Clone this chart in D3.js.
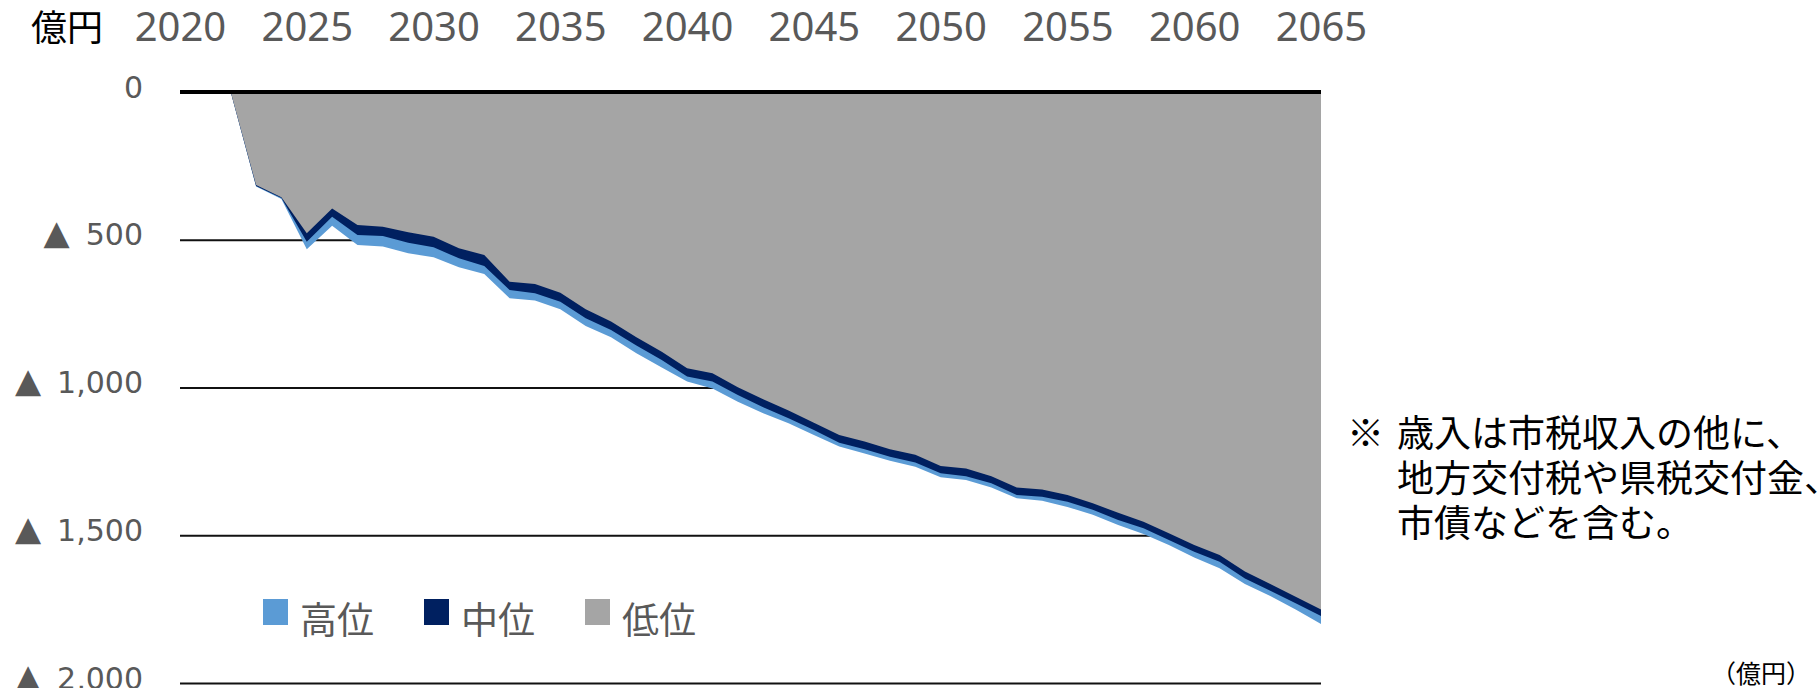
<!DOCTYPE html>
<html>
<head>
<meta charset="utf-8">
<script src="https://cdn.jsdelivr.net/npm/d3@7"></script>
<style>
  body { margin: 0; background: #fff; }
  svg { display: block; }
</style>
</head>
<body>
<script>
// years shown on the top axis
var yearTicks = [2020, 2025, 2030, 2035, 2040, 2045, 2050, 2055, 2060, 2065];
var valueTicks = [0, -500, -1000, -1500, -2000];

var years = d3.range(2022, 2066);

// 低位 (gray, smallest shortfall)
var low = [0, -315, -356, -478, -394, -450, -456, -475, -490, -529, -552,
  -642, -650, -679, -735, -777, -830, -879, -935, -952, -999, -1040,
  -1078, -1119, -1161, -1183, -1209, -1228, -1266, -1274, -1300, -1338,
  -1345, -1364, -1392, -1424, -1454, -1493, -1533, -1567, -1623, -1665,
  -1708, -1751];
// 中位 (navy)
var mid = [0, -318, -359, -507, -422, -484, -487, -510, -525, -563, -589,
  -670, -681, -710, -766, -805, -858, -907, -963, -980, -1025, -1067,
  -1104, -1144, -1187, -1209, -1234, -1254, -1290, -1300, -1324, -1364,
  -1370, -1387, -1414, -1448, -1476, -1516, -1556, -1590, -1646, -1688,
  -1730, -1773];
// 高位 (light blue, largest shortfall)
var high = [0, -320, -362, -532, -453, -518, -523, -546, -559, -593, -616,
  -698, -706, -735, -792, -830, -884, -932, -980, -1003, -1048, -1087,
  -1121, -1161, -1200, -1223, -1248, -1268, -1304, -1313, -1338, -1375,
  -1383, -1404, -1431, -1465, -1496, -1533, -1575, -1612, -1665, -1706,
  -1751, -1800];

var seriesNames = ['高位', '中位', '低位'];
var seriesColors = ['#5b9bd5', '#002060', '#a5a5a5'];

var noteLines = ['歳入は市税収入の他に、', '地方交付税や県税交付金、', '市債などを含む。'];

var W = 1820, H = 688;
var svg = d3.select('body').append('svg')
  .attr('width', W).attr('height', H);

var x = d3.scaleLinear().domain([2020, 2065]).range([180, 1321]);
var y = d3.scaleLinear().domain([0, -2000]).range([92, 683]);

// grid + left labels
var yAxis = d3.axisLeft(y)
  .tickValues(valueTicks)
  .tickSizeInner(-(1321 - 180))
  .tickSizeOuter(0)
  .tickPadding(37)
  .tickFormat(function(v){ return v === 0 ? '0' : d3.format(',')(-v); });

var gy = svg.append('g')
  .attr('transform', 'translate(180,0)')
  .call(yAxis);
gy.select('.domain').remove();
gy.selectAll('line').attr('stroke', '#111').attr('stroke-width', 2);
gy.selectAll('text')
  .attr('fill', '#595959')
  .attr('font-family', 'DejaVu Sans')
  .attr('font-size', 30)
  .attr('dy', null)
  .attr('y', 5);
// ▲ marks the negative values
gy.selectAll('.tick').filter(function(v){ return v !== 0; })
  .each(function(){
    var w = d3.select(this).select('text').node().getComputedTextLength();
    d3.select(this).append('text')
      .attr('x', -37 - w - 16)
      .attr('y', 4)
      .attr('text-anchor', 'end')
      .attr('fill', '#595959')
      .attr('font-family', 'DejaVu Sans')
      .attr('font-size', 34)
      .text('▲');
  });

// top year labels
var xAxis = d3.axisTop(x)
  .tickValues(yearTicks)
  .tickSize(0)
  .tickPadding(0)
  .tickFormat(d3.format('d'));
var gx = svg.append('g')
  .attr('transform', 'translate(0,41)')
  .call(xAxis);
gx.select('.domain').remove();
gx.selectAll('text')
  .attr('fill', '#595959')
  .attr('font-family', 'Noto Sans')
  .attr('font-size', 40);

svg.append('text')
  .attr('x', 31).attr('y', 41)
  .attr('font-family', 'Noto Sans CJK JP')
  .attr('font-size', 36)
  .attr('fill', '#000')
  .text('億円');

// overlapping areas, largest first
var table = years.map(function(yr, i){
  return {year: yr, vals: [high[i], mid[i], low[i]]};
});

seriesNames.forEach(function(name, k){
  var area = d3.area()
    .x(function(d){ return x(d.year); })
    .y0(y(0))
    .y1(function(d){ return y(d.vals[k]); });
  svg.append('path')
    .datum(table)
    .attr('d', area)
    .attr('fill', seriesColors[k]);
});

// zero line on top
svg.append('line')
  .attr('x1', 180).attr('x2', 1321)
  .attr('y1', y(0)).attr('y2', y(0))
  .attr('stroke', '#000').attr('stroke-width', 4);

// legend
var legendX = [263, 424, 585];
var leg = svg.append('g').selectAll('g')
  .data(seriesNames)
  .enter().append('g')
  .attr('transform', function(d, i){ return 'translate(' + legendX[i] + ',0)'; });
leg.append('rect')
  .attr('x', 0).attr('y', 599)
  .attr('width', 25).attr('height', 26)
  .attr('fill', function(d, i){ return seriesColors[i]; });
leg.append('text')
  .attr('x', 37).attr('y', 634)
  .attr('font-family', 'Noto Sans CJK JP')
  .attr('font-size', 37)
  .attr('fill', '#595959')
  .text(function(d){ return d; });

// note
var note = svg.append('text')
  .attr('font-family', 'Noto Sans CJK JP')
  .attr('font-size', 37)
  .attr('fill', '#000');
note.append('tspan')
  .attr('x', 1347).attr('y', 447)
  .text('※');
note.selectAll('tspan.line')
  .data(noteLines)
  .enter().append('tspan')
  .attr('class', 'line')
  .attr('x', 1397)
  .attr('y', function(d, i){ return 447 + i * 45; })
  .text(function(d){ return d; });

svg.append('text')
  .attr('x', 1811).attr('y', 683)
  .attr('text-anchor', 'end')
  .attr('font-family', 'Noto Sans CJK JP')
  .attr('font-size', 25)
  .attr('fill', '#000')
  .text('（億円）');
</script>
</body>
</html>
